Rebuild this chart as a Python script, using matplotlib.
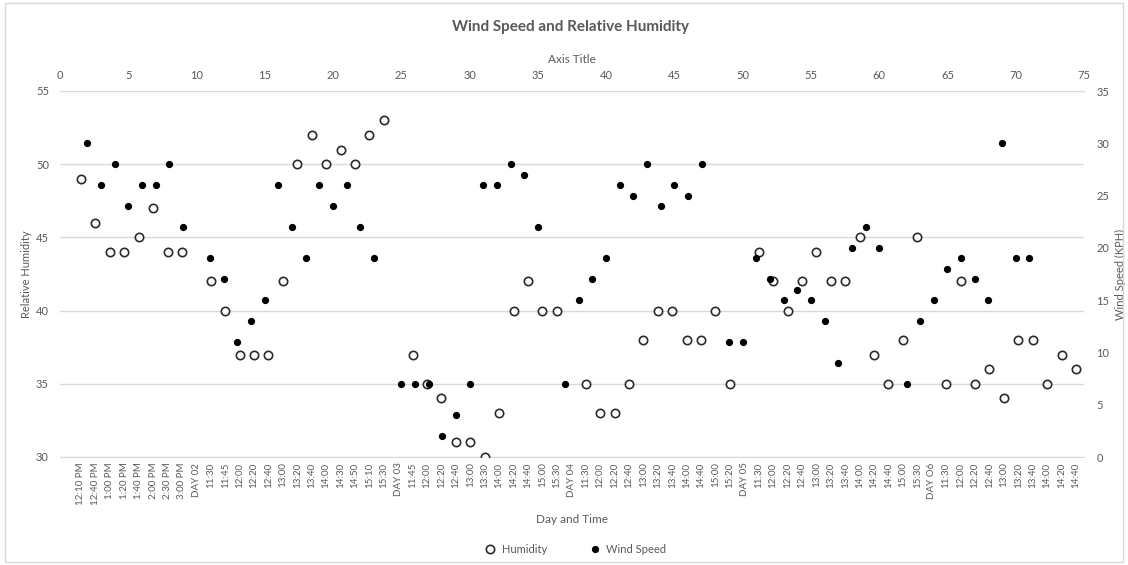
import numpy as np
import matplotlib.pyplot as plt
from matplotlib.patches import Rectangle

plt.rcParams['font.family'] = ['Lato', 'DejaVu Sans']

# Readings per time slot; the "DAY xx" rows carry no values
day_labels = [
    '12:10 PM', '12:40 PM', '1:00 PM', '1:20 PM', '1:40 PM', '2:00 PM', '2:30 PM', '3:00 PM',
    'DAY 02', '11:30', '11:45', '12:00', '12:20', '12:40', '13:00', '13:20', '13:40',
    '14:00', '14:30', '14:50', '15:10', '15:30',
    'DAY 03', '11:45', '12:00', '12:20', '12:40', '13:00', '13:30', '14:00', '14:20',
    '14:40', '15:00', '15:30',
    'DAY 04', '11:30', '12:00', '12:20', '12:40', '13:00', '13:20', '13:40', '14:00',
    '14:40', '15:00', '15:20',
    'DAY 05', '11:30', '12:00', '12:20', '12:40', '13:00', '13:20', '13:40', '14:00',
    '14:20', '14:40', '15:00', '15:30',
    'DAY O6', '11:30', '12:00', '12:20', '12:40', '13:00', '13:20', '13:40', '14:00',
    '14:20', '14:40',
]

humidity = [
    49, 46, 44, 44, 45, 47, 44, 44,
    None, 42, 40, 37, 37, 37, 42, 50, 52, 50, 51, 50, 52, 53,
    None, 37, 35, 34, 31, 31, 30, 33, 40, 42, 40, 40,
    None, 35, 33, 33, 35, 38, 40, 40, 38, 38, 40, 35,
    None, 44, 42, 40, 42, 44, 42, 42, 45, 37, 35, 38, 45,
    None, 35, 42, 35, 36, 34, 38, 38, 35, 37, 36,
]

wind_speed = [
    30, 26, 28, 24, 26, 26, 28, 22,
    None, 19, 17, 11, 13, 15, 26, 22, 19, 26, 24, 26, 22, 19,
    None, 7, 7, 7, 2, 4, 7, 26, 26, 28, 27, 22,
    None, 7, 15, 17, 19, 26, 25, 28, 24, 26, 25, 28,
    None, 11, 11, 19, 17, 15, 16, 15, 13, 9, 20, 22, 20,
    None, 7, 13, 15, 18, 19, 17, 15, 30, 19, 19,
]

hum = np.array([np.nan if v is None else v for v in humidity], dtype=float)
wind = np.array([np.nan if v is None else v for v in wind_speed], dtype=float)
cat_x = np.arange(len(day_labels))
# wind speed series was plotted against the sheet row number (data starts on row 2)
row_x = cat_x + 2

txt = '#595959'
grid_c = '#d9d9d9'

fig = plt.figure(figsize=(11.28, 5.65), dpi=100)
rect = [60 / 1128, 1 - 457 / 565, 1024 / 1128, 366 / 565]
ax = fig.add_axes(rect)
axw = fig.add_axes(rect, label='wind')
axw.patch.set_visible(False)

# humidity on the category axis (bottom / left)
h1, = ax.plot(cat_x, hum, 'o', ms=6, mfc='white', mec='#2b2b2b', mew=1.2,
              linestyle='none', label='Humidity', zorder=3)
ax.set_xlim(-1.456, 69.56)
ax.set_ylim(30, 55)
ax.set_yticks(range(30, 56, 5))
ax.set_xticks(cat_x)
ax.set_xticklabels(day_labels, rotation=90, fontsize=7, color=txt)
ax.tick_params(axis='x', length=0, pad=4)
ax.tick_params(axis='y', length=0, pad=8, labelsize=8, labelcolor=txt)
ax.yaxis.grid(True, color=grid_c, lw=1)
ax.set_axisbelow(True)
for s in ['left', 'right']:
    ax.spines[s].set_visible(False)
ax.spines['bottom'].set_color(grid_c)
ax.spines['top'].set_color(grid_c)
ax.set_ylabel('Relative Humidity', fontsize=8, color=txt, labelpad=3)
ax.set_xlabel('Day and Time', fontsize=8.5, color=txt, labelpad=6)

# wind speed on the secondary axes (top / right)
h2, = axw.plot(row_x, wind, 'o', ms=4.2, color='black', linestyle='none',
               label='Wind Speed', zorder=4)
axw.set_xlim(0, 75)
axw.set_ylim(0, 35)
axw.set_xticks(range(0, 76, 5))
axw.set_yticks(range(0, 36, 5))
axw.xaxis.tick_top()
axw.xaxis.set_label_position('top')
axw.yaxis.tick_right()
axw.yaxis.set_label_position('right')
axw.tick_params(length=0, labelsize=8, labelcolor=txt)
axw.tick_params(axis='x', pad=7)
axw.tick_params(axis='y', pad=9)
for s in axw.spines.values():
    s.set_visible(False)
axw.set_xlabel('Axis Title', fontsize=8.5, color=txt, labelpad=5)
axw.set_ylabel('Wind Speed (KPH)', fontsize=8, color=txt, labelpad=4)

fig.text(0.506, 0.952, 'Wind Speed and Relative Humidity', ha='center', va='center',
         fontsize=11, fontweight='bold', color=txt)

fig.legend(handles=[h1, h2], loc='center', bbox_to_anchor=(0.51, 0.028), ncol=2,
           frameon=False, fontsize=8, labelcolor=txt, handlelength=1,
           handletextpad=0.5, columnspacing=3.8)

fig.patches.append(Rectangle((0.004, 0.006), 0.992, 0.988, transform=fig.transFigure,
                             fill=False, edgecolor=grid_c, lw=1))

fig.savefig('out.png', dpi=100)
